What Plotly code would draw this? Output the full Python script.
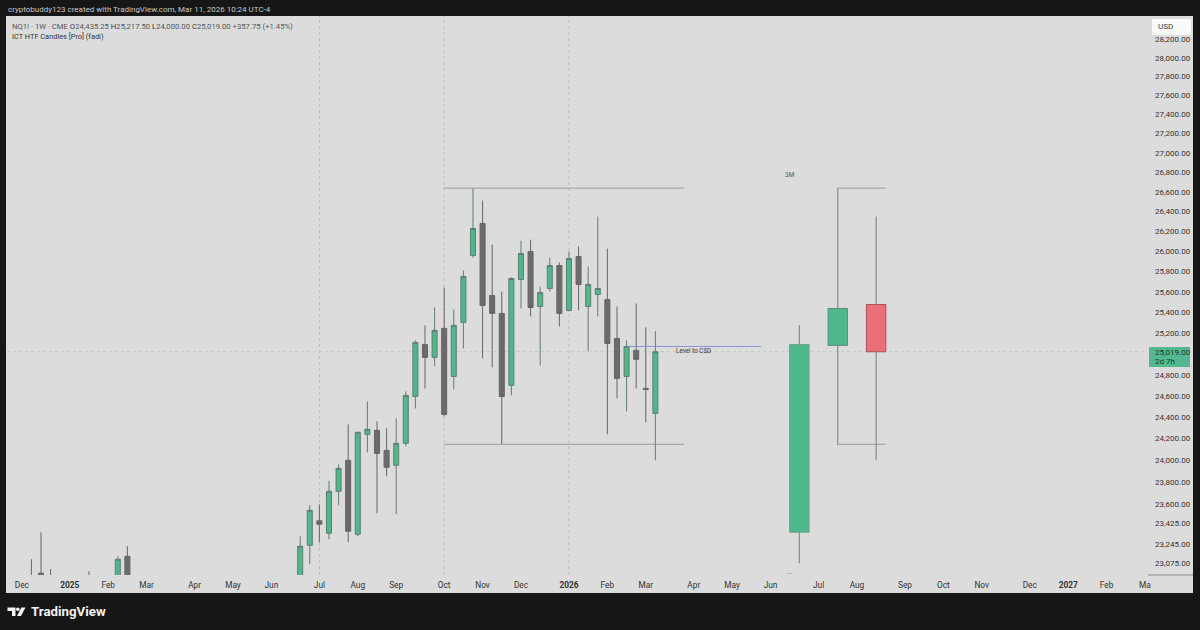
import plotly.graph_objects as go

FONT = "Roboto"
BG = "#161616"
PANE = "#dcdcdc"
GREEN = "#4fb78c"
GRAY = "#6b6b6b"
RED = "#ea6f78"
W, H = 1200, 630
L, R, T, B = 7, 1147, 16, 575

# weekly candles
weeks = ["2024-12-09","2024-12-16","2024-12-23","2025-01-20","2025-02-10","2025-02-17",
 "2025-06-23","2025-06-30","2025-07-07","2025-07-14","2025-07-21","2025-07-28","2025-08-04","2025-08-11",
 "2025-08-18","2025-08-25","2025-09-01","2025-09-08","2025-09-15","2025-09-22","2025-09-29","2025-10-06",
 "2025-10-13","2025-10-20","2025-10-27","2025-11-03","2025-11-10","2025-11-17","2025-11-24","2025-12-01",
 "2025-12-08","2025-12-15","2025-12-22","2025-12-29","2026-01-05","2026-01-12","2026-01-19","2026-01-26",
 "2026-02-02","2026-02-09","2026-02-16","2026-02-23","2026-03-02","2026-03-09"]
opens = [22900,22985,22950,22950,22900,23134,
 22850,23232,23450,23339,23717,24000,23330,24240,
 24277,24092,23955,24157,24594,25089,24965,25244,
 24784,25302,25958,26279,25563,25389,24699,25721,
 25997,25456,25632,25859,25418,25948,25456,25573,
 25524,25147,24784,25032,24670,24435.25]
highs = [23108,23348,23020,23002,23134,23223,
 23312,23590,23599,23811,23964,24333,24265,24547,
 24361,24296,24389,24642,25128,25273,25447,25642,
 25427,25810,26637,26510,26066,25603,25741,26106,
 26116,25652,25938,25889,25997,26047,25849,26349,
 26027,25456,25128,25485,25254,25217.5]
lows = [22700,22900,22850,22800,22850,22900,
 22780,23064,23259,23286,23590,23259,23312,24073,
 23519,23854,23510,24129,24482,24670,24880,24408,
 24661,25051,25938,24955,24870,24148,24604,25437,
 25360,24889,25603,25263,25408,25418,25022,25360,
 24240,24575,24454,24670,24352,24000]
closes = [22800,22970,22900,22900,23108,22930,
 23223,23545,23420,23717,23927,23357,24259,24287,
 24064,23936,24157,24604,25109,24965,25225,24426,
 25273,25751,26228,25466,25389,24594,25731,25978,
 25447,25593,25859,25389,25928,25672,25672,25632,
 25099,24765,25070,24946,24661,25019]

# higher-timeframe candles on the right
htf_dates = ["2026-06-22","2026-07-20","2026-08-17"]
htf_open = [23348,25080,25476]
htf_high = [25273,26637,26349]
htf_low = [23073,24138,24000]
htf_close = [25089,25437,25019]
htf_colors = [GREEN,GREEN,RED]
htf_lines = ["#6fa58e","#5f8f7a","#a8525a"]

# price axis
price_ticks = [28200,28000,27800,27600,27400,27200,27000,26800,26600,26400,26200,26000,25800,25600,25400,25200,
 24800,24600,24400,24200,24000,23800,23600,23425,23245,23075]
price_labels = ["28,200.00","28,000.00","27,800.00","27,600.00","27,400.00","27,200.00","27,000.00","26,800.00",
 "26,600.00","26,400.00","26,200.00","26,000.00","25,800.00","25,600.00","25,400.00","25,200.00",
 "24,800.00","24,600.00","24,400.00","24,200.00","24,000.00","23,800.00","23,600.00","23,425.00","23,245.00","23,075.00"]

# time axis
time_ticks = ["2024-12-02","2025-01-06","2025-02-03","2025-03-03","2025-04-07","2025-05-05","2025-06-02","2025-07-07",
 "2025-08-04","2025-09-01","2025-10-06","2025-11-03","2025-12-01","2026-01-05","2026-02-02","2026-03-02","2026-04-06",
 "2026-05-04","2026-06-01","2026-07-06","2026-08-03","2026-09-07","2026-10-05","2026-11-02","2026-12-07","2027-01-04",
 "2027-02-01","2027-03-01"]
time_labels = ["Dec","<b>2025</b>","Feb","Mar","Apr","May","Jun","Jul","Aug","Sep","Oct","Nov","Dec","<b>2026</b>","Feb","Mar","Apr",
 "May","Jun","Jul","Aug","Sep","Oct","Nov","Dec","<b>2027</b>","Feb","Ma"]

session_lines = ["2025-07-07","2025-10-06","2026-01-05"]
last_price = 25019
range_high = 26637
range_low = 24148
csd_level = 25070

def px(x): return (x - L) / (R - L)
def py(y): return (B - y) / (B - T)
def box(x0, y0, x1, y1, fill, layer="below"):
    return dict(type="rect", xref="paper", yref="paper", x0=px(x0), x1=px(x1), y0=py(y0), y1=py(y1),
                fillcolor=fill, line_width=0, layer=layer)
def poly(points, fill):
    d = "M" + " L".join(f"{px(a):.5f},{py(b):.5f}" for a, b in points) + " Z"
    return dict(type="path", xref="paper", yref="paper", path=d, fillcolor=fill, line_width=0, layer="above")
def label(x, y, text, size=8, color="#333333", anchor="left", **kw):
    return dict(xref="paper", yref="paper", x=px(x), y=py(y), text=text, showarrow=False, xanchor=anchor, yanchor="middle",
                font=dict(family=FONT, size=size, color=color), borderpad=0, **kw)

fig = go.Figure()

# big candle bodies
fig.add_trace(go.Bar(x=htf_dates, base=[min(o, c) for o, c in zip(htf_open, htf_close)],
    y=[abs(c - o) for o, c in zip(htf_open, htf_close)], width=14.2 * 86400000,
    marker=dict(color=htf_colors, line=dict(color=htf_lines, width=1)), showlegend=False, hoverinfo="skip"))

# weekly candles
fig.add_trace(go.Candlestick(x=weeks, open=opens, high=highs, low=lows, close=closes, whiskerwidth=0, showlegend=False,
    increasing=dict(fillcolor=GREEN, line=dict(color="#5f7f72", width=1)),
    decreasing=dict(fillcolor=GRAY, line=dict(color="#666666", width=1))))

# big candle wicks
wx, wy = [], []
for d, o, h, l, c in zip(htf_dates, htf_open, htf_high, htf_low, htf_close):
    wx += [d, d, None, d, d, None]
    wy += [h, max(o, c), None, min(o, c), l, None]
fig.add_trace(go.Scatter(x=wx, y=wy, mode="lines", line=dict(color="#8a8a8a", width=1.2), showlegend=False, hoverinfo="skip"))

# levels
def level(x0, x1, y, color, width=0.9):
    fig.add_trace(go.Scatter(x=[x0, x1], y=[y, y], mode="lines", line=dict(color=color, width=width), showlegend=False, hoverinfo="skip"))
level("2025-10-06", "2026-03-30", range_high, "#969696")
level("2025-10-06", "2026-03-30", range_low, "#969696")
level("2026-07-20", "2026-08-24", range_high, "#969696")
level("2026-07-20", "2026-08-24", range_low, "#969696")
level("2026-02-16", "2026-05-25", csd_level, "#7c8ccf")

shapes = [box(6, 16, 1193, 593, PANE)]
for d in session_lines:
    shapes.append(dict(type="line", xref="x", yref="paper", x0=d, x1=d, y0=0, y1=1,
                       line=dict(color="#bcbcbc", width=1, dash="dot"), layer="below"))
shapes.append(dict(type="line", xref="paper", yref="y", x0=px(7), x1=px(1147), y0=last_price, y1=last_price,
                   line=dict(color="#bdc9c3", width=1, dash="dot"), layer="below"))
shapes.append(dict(type="line", xref="paper", yref="paper", x0=px(1148), x1=px(1193), y0=py(575), y1=py(575),
                   line=dict(color="#8a8a8a", width=1), layer="above"))
shapes.append(box(1149, 347, 1190, 367, "#53b88f", "above"))
shapes.append(box(1152, 19, 1191, 35, "#fafafa", "above"))
# logo
shapes.append(poly([(7.5,607.5),(15.5,607.5),(15.5,616),(12,616),(12,611),(7.5,611)], "#f2f2f2"))
shapes.append(dict(type="circle", xref="paper", yref="paper", x0=px(16), x1=px(19.6), y0=py(607.5), y1=py(611),
                   fillcolor="#f2f2f2", line_width=0, layer="above"))
shapes.append(poly([(21.3,607.5),(25.5,607.5),(21,616),(17,616)], "#f2f2f2"))

annotations = [
    label(7, 9, "cryptobuddy123 created with TradingView.com, Mar 11, 2026 10:24 UTC-4", size=8, color="#c8c8c8"),
    label(11, 26, "NQ1! · 1W · CME <span style='color:#333'>O</span>24,435.25 <span style='color:#333'>H</span>25,217.50 <span style='color:#333'>L</span>24,000.00 <span style='color:#333'>C</span>25,019.00 +357.75 (+1.45%)", size=7.7, color="#555555"),
    label(11, 36, "ICT HTF Candles [Pro] (fadi)", size=7.4, color="#333333"),
    label(1157, 26.5, "USD", size=8, color="#333333"),
    label(1154, 352.5, "25,019.00", size=8, color="#10392a"),
    label(1154, 361.5, "2d 7h", size=8, color="#10392a"),
    label(30, 611.5, "<b>TradingView</b>", size=13.3, color="#f2f2f2"),
    dict(x="2026-04-06", y=4.39836, xref="x", yref="y", text="Level to CSD", showarrow=False, borderpad=0,
         font=dict(family=FONT, size=6.3, color="#333333")),
    dict(x="2026-06-15", y=4.42765, xref="x", yref="y", text="3M", showarrow=False, borderpad=0,
         font=dict(family=FONT, size=6.5, color="#555555")),
    dict(x="2026-06-15", y=4.3613, xref="x", yref="y", text="···", showarrow=False, borderpad=0,
         font=dict(family=FONT, size=7, color="#555555")),
]

fig.update_layout(
    width=W, height=H, autosize=False, paper_bgcolor=BG, plot_bgcolor="rgba(0,0,0,0)",
    margin=dict(l=7, r=53, t=16, b=55, pad=0), showlegend=False, barmode="overlay", boxgap=0.25,
    font=dict(family=FONT, size=8, color="#333333"), shapes=shapes, annotations=annotations,
    xaxis=dict(type="date", range=["2024-11-21 05:00", "2027-03-02 12:00"], rangeslider=dict(visible=False),
               tickmode="array", tickvals=time_ticks, ticktext=time_labels, showgrid=False, zeroline=False, showline=False,
               ticks="", ticklabelstandoff=4, tickfont=dict(family=FONT, size=8.3, color="#333333")),
    yaxis=dict(type="log", side="right", range=[4.36114, 4.45411], tickmode="array", tickvals=price_ticks, ticktext=price_labels,
               showgrid=False, zeroline=False, showline=False, ticks="", ticklabelstandoff=7,
               tickfont=dict(family=FONT, size=8, color="#333333")),
)
fig.write_html("out.html", config={"displayModeBar": False},
               post_script="document.body.style.margin='0';document.body.style.background='#161616';document.documentElement.style.overflow='hidden';")
